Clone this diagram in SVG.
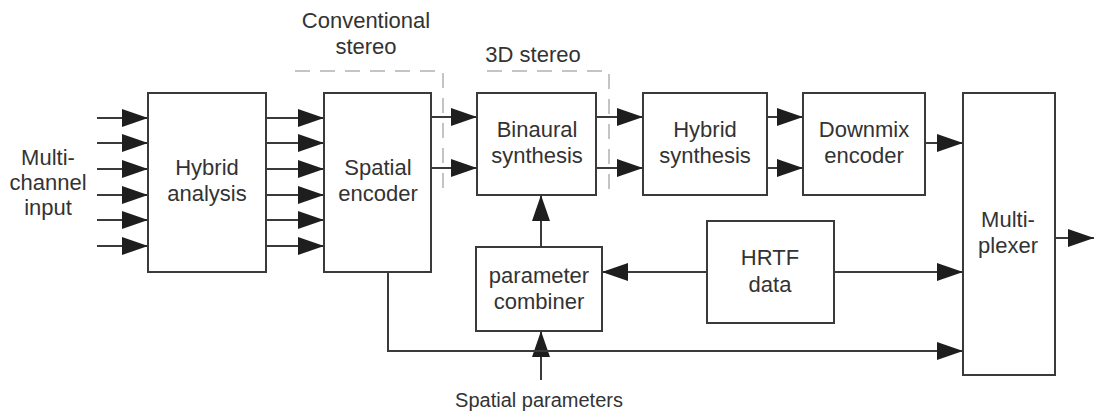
<svg xmlns="http://www.w3.org/2000/svg" width="1095" height="411" viewBox="0 0 1095 411">
<defs>
<marker id="ah" viewBox="0 0 26 18" refX="26" refY="9" markerWidth="26" markerHeight="18" markerUnits="userSpaceOnUse" orient="auto">
<path d="M0,0 L26,9 L0,18 Z" fill="#1e1e1e"/>
</marker>
<style>
.box{fill:#fff;stroke:#3a3a3a;stroke-width:2}
.ln{fill:none;stroke:#3a3a3a;stroke-width:2}
.ar{fill:none;stroke:#3a3a3a;stroke-width:2;marker-end:url(#ah)}
.dash{fill:none;stroke:#c4c4c4;stroke-width:2;stroke-dasharray:15 10}
text{font-family:"Liberation Sans",Arial,sans-serif;font-size:22px;fill:#333;text-anchor:middle}
.sm{font-size:20px}
</style>
</defs>
<rect width="1095" height="411" fill="#fff"/>

<g id="regions">
<path class="dash" d="M295,71 H443 V195"/>
<path class="dash" d="M487,71 H609 V195"/>
<text x="366" y="28">Conventional</text>
<text x="366" y="54">stereo</text>
<text x="533" y="62">3D stereo</text>
</g>

<g id="connectors">
<path class="ar" d="M97,118 H148"/>
<path class="ar" d="M97,143 H148"/>
<path class="ar" d="M97,169 H148"/>
<path class="ar" d="M97,195 H148"/>
<path class="ar" d="M97,220 H148"/>
<path class="ar" d="M97,246 H148"/>
<path class="ar" d="M266,118 H324"/>
<path class="ar" d="M266,143 H324"/>
<path class="ar" d="M266,169 H324"/>
<path class="ar" d="M266,195 H324"/>
<path class="ar" d="M266,220 H324"/>
<path class="ar" d="M266,246 H324"/>
<path class="ar" d="M431,117 H477"/>
<path class="ar" d="M431,168 H477"/>
<path class="ar" d="M596,117 H643"/>
<path class="ar" d="M596,168 H643"/>
<path class="ar" d="M767,117 H803"/>
<path class="ar" d="M767,168 H803"/>
<path class="ar" d="M925,143 H963"/>
<path class="ar" d="M1055,238 H1094"/>
<path class="ar" d="M541,247 V195"/>
<path class="ar" d="M541,380 V331"/>
<path class="ar" d="M707,272 H602"/>
<path class="ar" d="M834,272 H963"/>
<path class="ar" d="M388,272 V351 H963"/>
</g>

<g id="input-label">
<text x="48" y="165">Multi-</text>
<text x="48" y="190">channel</text>
<text x="48" y="215">input</text>
</g>

<g id="hybrid-analysis">
<rect class="box" x="148" y="93" width="118" height="179"/>
<text x="207" y="175">Hybrid</text>
<text x="207" y="201">analysis</text>
</g>

<g id="spatial-encoder">
<rect class="box" x="324" y="93" width="107" height="179"/>
<text x="378" y="175">Spatial</text>
<text x="378" y="201">encoder</text>
</g>

<g id="binaural-synthesis">
<rect class="box" x="477" y="93" width="119" height="102"/>
<text x="537" y="137">Binaural</text>
<text x="537" y="163">synthesis</text>
</g>

<g id="hybrid-synthesis">
<rect class="box" x="643" y="93" width="124" height="102"/>
<text x="705" y="137">Hybrid</text>
<text x="705" y="163">synthesis</text>
</g>

<g id="downmix-encoder">
<rect class="box" x="803" y="93" width="122" height="102"/>
<text x="864" y="137">Downmix</text>
<text x="864" y="163">encoder</text>
</g>

<g id="multiplexer">
<rect class="box" x="963" y="93" width="92" height="282"/>
<text x="1008" y="227">Multi-</text>
<text x="1008" y="253">plexer</text>
</g>

<g id="hrtf-data">
<rect class="box" x="707" y="221" width="127" height="102"/>
<text x="770" y="265">HRTF</text>
<text x="770" y="292">data</text>
</g>

<g id="parameter-combiner">
<rect class="box" x="476" y="247" width="126" height="84"/>
<text x="539" y="283">parameter</text>
<text x="539" y="309">combiner</text>
</g>

<g id="spatial-parameters">
<text class="sm" x="539" y="407">Spatial parameters</text>
</g>
</svg>
